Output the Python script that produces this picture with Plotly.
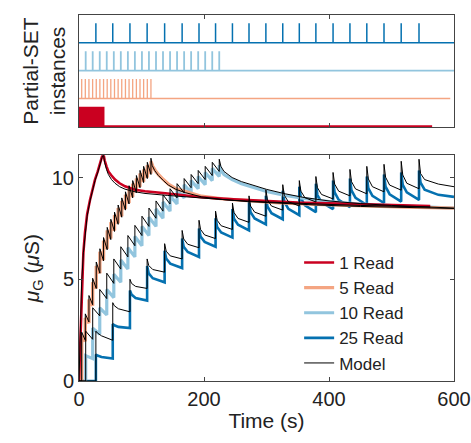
import plotly.graph_objects as go

# ---- pulse times (s) of the partial-SET trains (top panel) ----
t_1read = [1, 3, 5, 7, 9, 11, 13, 15, 17, 19, 21, 23, 25, 27, 29, 31, 33, 35, 37, 39]
t_5read = [4.3, 10.1, 15.9, 21.8, 27.6, 33.4, 39.3, 45.1, 50.9, 56.8,
           62.6, 68.4, 74.3, 80.1, 85.9, 91.8, 97.6, 103.4, 109.3, 115.1]
t_10read = [10.7, 21.9, 33.2, 44.4, 55.7, 66.9, 78.2, 89.4, 100.7, 111.9,
            123.2, 134.4, 145.7, 156.9, 168.2, 179.4, 190.7, 201.9, 213.2, 224.4]
t_25read = [27, 54, 81.5, 109, 137, 165, 192, 218.5, 245.5, 272,
            299, 326, 352.5, 379, 406.5, 433.5, 460.5, 488, 515.5, 544]
train_end = {'1': 565, '5': 594, '10': 600, '25': 600}

# ---- 1 Read (smooth, pulses too dense to resolve) ----
r1_t = [0, 1, 2.5, 4.3, 7, 9.6, 13, 17.6, 21, 25.6, 30, 33.6, 37, 39,
        41, 44, 47, 52, 57.6, 65, 73.6, 89.6, 105.6, 142, 196, 247, 300, 350, 400, 450, 500, 562]
r1_meas = [0, 0.9, 2.8, 4.8, 6.3, 7.3, 8.2, 8.9, 9.4, 9.9, 10.3, 10.75, 11.05, 11.2,
           10.85, 10.55, 10.3, 10.1, 9.9, 9.72, 9.57, 9.4, 9.33, 9.22, 9.03, 8.93, 8.83, 8.77, 8.73, 8.68, 8.65, 8.6]
r1_model = [0, 1.2, 3.0, 4.9, 6.3, 7.25, 8.1, 8.85, 9.35, 9.85, 10.25, 10.7, 11.0, 11.15,
            10.75, 10.4, 10.15, 9.9, 9.72, 9.55, 9.43, 9.3, 9.22, 9.12, 8.98, 8.88, 8.8, 8.73, 8.68, 8.63, 8.6, 8.55]

# ---- 5 Read: value before each pulse / peak after it, then decay ----
r5_pre = [0, 1.95, 2.85, 3.7, 4.55, 5.3, 5.95, 6.5, 7.0, 7.4, 7.75, 8.1, 8.45, 8.75, 9.05, 9.3, 9.55, 9.8, 10.0, 10.2]
r5_peak = [2.2, 3.1, 4.0, 4.85, 5.65, 6.35, 6.9, 7.4, 7.8, 8.15, 8.5, 8.85, 9.15, 9.45, 9.7, 9.95, 10.2, 10.4, 10.6, 10.8]
r5_tail_t = [118, 122, 127, 135, 143, 155, 170, 196, 230, 270, 320, 380, 450, 520, 600]
r5_tail = [10.55, 10.35, 10.15, 9.9, 9.68, 9.45, 9.3, 9.08, 8.95, 8.85, 8.76, 8.68, 8.6, 8.55, 8.5]
m5_pre = [0, 2.0, 2.9, 3.75, 4.55, 5.3, 5.9, 6.45, 6.95, 7.35, 7.7, 8.05, 8.4, 8.7, 9.0, 9.25, 9.5, 9.75, 9.95, 10.15]
m5_peak = [2.4, 3.3, 4.2, 5.05, 5.85, 6.5, 7.05, 7.55, 7.95, 8.3, 8.65, 9.0, 9.3, 9.6, 9.85, 10.1, 10.35, 10.55, 10.75, 10.95]
m5_tail_t = [117, 121, 127, 135, 143, 155, 170, 196, 230, 270, 320, 380, 450, 520, 600]
m5_tail = [10.6, 10.35, 10.1, 9.85, 9.63, 9.42, 9.26, 9.05, 8.92, 8.82, 8.73, 8.65, 8.58, 8.53, 8.48]

# ---- 10 Read ----
r10_pre = [0, 1.1, 2.3, 3.25, 4.1, 4.85, 5.5, 6.1, 6.65, 7.15, 7.6, 8.0, 8.35, 8.7, 9.0, 9.25, 9.45, 9.65, 9.85, 10.05]
r10_peak = [1.25, 2.6, 3.6, 4.5, 5.25, 5.95, 6.55, 7.1, 7.6, 8.05, 8.45, 8.8, 9.1, 9.4, 9.65, 9.85, 10.05, 10.25, 10.45, 10.6]
r10_tail_t = [227, 232, 245, 260, 280, 300, 330, 360, 400, 450, 500, 550, 600]
r10_tail = [10.35, 10.15, 9.9, 9.7, 9.5, 9.32, 9.12, 8.97, 8.82, 8.7, 8.62, 8.55, 8.5]
m10_pre = [0, 2.05, 3.2, 4.05, 4.8, 5.5, 6.1, 6.65, 7.15, 7.6, 8.0, 8.35, 8.7, 9.0, 9.25, 9.5, 9.7, 9.9, 10.1, 10.3]
m10_peak = [2.45, 3.6, 4.5, 5.3, 6.0, 6.6, 7.15, 7.65, 8.1, 8.5, 8.85, 9.15, 9.45, 9.7, 9.95, 10.15, 10.35, 10.55, 10.75, 10.9]
m10_tail_t = [227, 232, 245, 260, 280, 300, 330, 360, 400, 450, 500, 550, 600]
m10_tail = [10.55, 10.3, 10.0, 9.8, 9.6, 9.42, 9.2, 9.02, 8.85, 8.72, 8.63, 8.56, 8.5]

# ---- 25 Read (values 2.5 s and 9 s after each pulse as well) ----
r25_pre = [0, 1.1, 2.6, 3.95, 4.85, 5.55, 6.1, 6.6, 7.05, 7.4, 7.7, 7.95, 8.15, 8.3, 8.45, 8.55, 8.65, 8.75, 8.82, 8.9]
r25_peak = [1.3, 2.8, 4.45, 5.65, 6.4, 7.0, 7.5, 8.0, 8.45, 8.8, 9.1, 9.35, 9.55, 9.7, 9.85, 9.95, 10.05, 10.15, 10.25, 10.35]
r25_k1 = [1.25, 2.74, 4.25, 5.29, 6.02, 6.6, 7.1, 7.57, 7.98, 8.3, 8.58, 8.81, 8.99, 9.14, 9.27, 9.37, 9.47, 9.55, 9.64, 9.75]
r25_k2 = [1.18, 2.66, 4.08, 5.05, 5.77, 6.34, 6.84, 7.3, 7.68, 7.99, 8.25, 8.46, 8.63, 8.78, 8.9, 9.0, 9.1, 9.18, 9.27, 9.4]
r25_tail_t = [575, 600]
r25_tail = [9.15, 9.05]
m25_pre = [0, 2.0, 3.4, 4.55, 5.35, 6.0, 6.55, 7.0, 7.45, 7.8, 8.1, 8.4, 8.6, 8.8, 8.95, 9.1, 9.2, 9.3, 9.38, 9.45]
m25_peak = [2.45, 3.85, 5.0, 6.0, 6.75, 7.4, 7.9, 8.35, 8.75, 9.1, 9.4, 9.65, 9.85, 10.05, 10.25, 10.4, 10.55, 10.65, 10.8, 10.9]
m25_k1 = [2.36, 3.7, 4.8, 5.68, 6.38, 6.98, 7.45, 7.9, 8.28, 8.6, 8.9, 9.13, 9.33, 9.5, 9.68, 9.8, 9.93, 10.02, 10.13, 10.2]
m25_k2 = [2.22, 3.55, 4.65, 5.48, 6.15, 6.72, 7.18, 7.63, 7.99, 8.3, 8.6, 8.81, 9.01, 9.17, 9.33, 9.44, 9.55, 9.63, 9.72, 9.9]
m25_tail_t = [575, 600]
m25_tail = [9.68, 9.55]

RED, ORANGE, LBLUE, DBLUE = '#ca0020', '#f4a582', '#92c5de', '#0571b0'
FONT = 'Liberation Sans, Arial, sans-serif'


def sawtooth(times, pre, peak, tail_t, tail_v, knees=()):
    xs, ys = [0], [0]
    for k, t in enumerate(times):
        xs += [t, t]
        ys += [pre[k], peak[k]]
        for dt, kv in knees:
            xs.append(t + dt)
            ys.append(kv[k])
    return xs + tail_t, ys + tail_v


def pulse_train(times, base, end, h=0.7):
    xs, ys = [0], [base]
    for t in times:
        xs += [t, t, t]
        ys += [base, base + h, base]
    return xs + [end], ys + [base]


fig = go.Figure()

# top panel: pulse trains
rows = [(t_25read, 3, train_end['25'], DBLUE, 1.5),
        (t_10read, 2, train_end['10'], LBLUE, 1.8),
        (t_5read, 1, train_end['5'], ORANGE, 1.3),
        (t_1read, 0, train_end['1'], RED, 2.2)]
for times, base, end, col, w in rows:
    px, py = pulse_train(times, base, end)
    fig.add_trace(go.Scatter(x=px, y=py, mode='lines', line=dict(color=col, width=w),
                             xaxis='x2', yaxis='y2', showlegend=False, hoverinfo='skip'))

# bottom panel: measured
x5, y5 = sawtooth(t_5read, r5_pre, r5_peak, r5_tail_t, r5_tail)
x10, y10 = sawtooth(t_10read, r10_pre, r10_peak, r10_tail_t, r10_tail)
knees_r = [(2.5, r25_k1), (9, r25_k2)]
x25, y25 = sawtooth(t_25read, r25_pre, r25_peak, r25_tail_t, r25_tail, knees_r)

fig.add_trace(go.Scatter(x=x25, y=y25, mode='lines', name='25 Read',
                         line=dict(color=DBLUE, width=2.6), legendrank=4))
fig.add_trace(go.Scatter(x=x10, y=y10, mode='lines', name='10 Read',
                         line=dict(color=LBLUE, width=3.2), legendrank=3))
fig.add_trace(go.Scatter(x=x5, y=y5, mode='lines', name='5 Read',
                         line=dict(color=ORANGE, width=3.4), legendrank=2))
fig.add_trace(go.Scatter(x=r1_t, y=r1_meas, mode='lines', name='1 Read',
                         line=dict(color=RED, width=2.6), legendrank=1))

# model
mx5, my5 = sawtooth(t_5read, m5_pre, m5_peak, m5_tail_t, m5_tail)
mx10, my10 = sawtooth(t_10read, m10_pre, m10_peak, m10_tail_t, m10_tail)
knees_m = [(2.5, m25_k1), (9, m25_k2)]
mx25, my25 = sawtooth(t_25read, m25_pre, m25_peak, m25_tail_t, m25_tail, knees_m)
mx = r1_t + [None] + mx5 + [None] + mx10 + [None] + mx25
my = r1_model + [None] + my5 + [None] + my10 + [None] + my25
fig.add_trace(go.Scatter(x=mx, y=my, mode='lines', name='Model',
                         line=dict(color='black', width=1), legendrank=5))

axis_common = dict(showline=True, mirror='ticks', linecolor='#444444', linewidth=1,
                   ticks='inside', ticklen=4, tickcolor='#444444', showgrid=False,
                   zeroline=False, automargin=False,
                   tickfont=dict(family=FONT, size=20, color='#222222'))

fig.update_layout(
    width=471, height=443,
    margin=dict(l=79, r=17, t=15, b=62),
    plot_bgcolor='white', paper_bgcolor='white',
    font=dict(family=FONT, size=20, color='#222222'),
    xaxis=dict(axis_common, domain=[0, 1], range=[0, 600], tickvals=[0, 200, 400, 600],
               title=dict(text='Time (s)', standoff=4, font=dict(size=21))),
    yaxis=dict(axis_common, domain=[0, 0.617], range=[0, 11.1], tickvals=[0, 5, 10],
               title=dict(text='<i>μ</i><sub>G</sub> (<i>μ</i>S)', standoff=6, font=dict(size=21))),
    xaxis2=dict(axis_common, domain=[0, 1], range=[0, 600], anchor='y2',
                tickvals=[200, 400], showticklabels=False),
    yaxis2=dict(axis_common, domain=[0.694, 1.0], range=[-0.025, 4.0], anchor='x2',
                ticks='', showticklabels=False,
                title=dict(text='Partial-SET<br>instances', standoff=6, font=dict(size=21))),
    legend=dict(x=0.587, y=0.0, xanchor='left', yanchor='bottom', bgcolor='rgba(0,0,0,0)',
                font=dict(family=FONT, size=17, color='#222222'), tracegroupgap=0,
                itemwidth=30),
    showlegend=True,
)

# drop the default 8 px page margin so the figure fills the window exactly
fig.write_html("out.html", config={'displayModeBar': False},
               post_script="document.body.style.margin='0';")
